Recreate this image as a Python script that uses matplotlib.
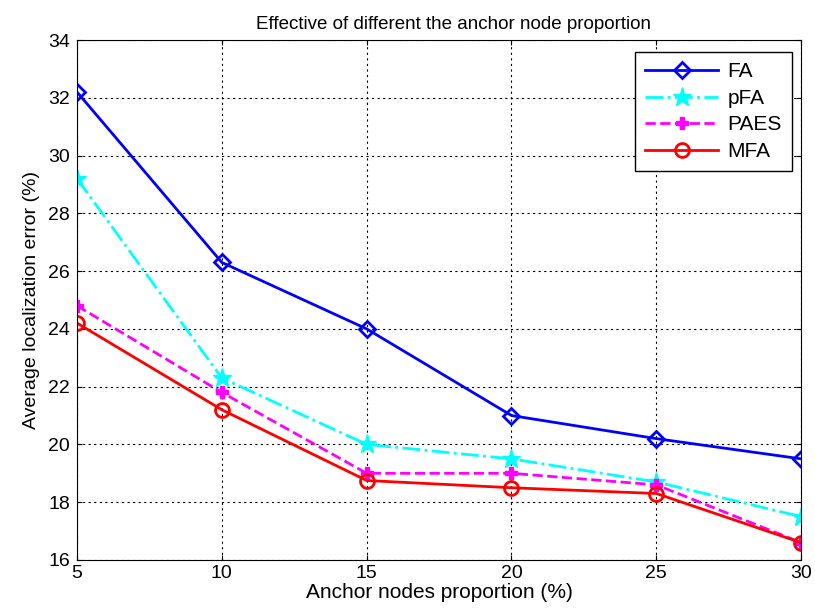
import matplotlib
matplotlib.use('Agg')
import matplotlib.pyplot as plt

# proporcion de nodos ancla
x = [5, 10, 15, 20, 25, 30]

fa = [32.2, 26.3, 24.0, 21.0, 20.2, 19.5]
pfa = [29.2, 22.3, 20.0, 19.5, 18.7, 17.5]
paes = [24.8, 21.8, 19.0, 19.0, 18.6, 16.6]
mfa = [24.2, 21.2, 18.75, 18.5, 18.3, 16.6]

plt.rcParams['font.family'] = ['Liberation Sans', 'DejaVu Sans']

fig = plt.figure(figsize=(8.15, 6.16), dpi=100)
ax = fig.add_axes([0.0945, 0.091, 0.8885, 0.844])

ax.plot(x, fa, '-', color='#0000ff', lw=2, marker='D', ms=8, mfc='none', mew=2, label='FA')
ax.plot(x, pfa, '-.', color='#00ffff', lw=2, marker='*', ms=14, label='pFA')
ax.plot(x, paes, '--', color='#ff00ff', lw=2, marker='P', ms=8, label='PAES')
ax.plot(x, mfa, '-', color='#ff0000', lw=2, marker='o', ms=10, mfc='none', mew=2, label='MFA')

ax.set_xlim(5, 30)
ax.set_ylim(16, 34)
ax.set_xticks(x)
ax.set_yticks(range(16, 35, 2))
ax.grid(True, color='black', linestyle=(0, (2, 3)), lw=0.8)
ax.tick_params(labelsize=14, direction='in', top=True, right=True)
ax.tick_params(axis='y', pad=5)

ax.set_title('Effective of different the anchor node proportion', fontsize=13.5, pad=8, x=0.52)
ax.set_xlabel('Anchor nodes proportion (%)', fontsize=15, labelpad=1)
ax.set_ylabel('Average localization error (%)', fontsize=14, labelpad=6)

leg = ax.legend(loc='upper right', fontsize=15, fancybox=False, framealpha=1,
                edgecolor='black', handlelength=3.5, handletextpad=0.45,
                borderpad=0.5, labelspacing=0.36, borderaxespad=0,
                bbox_to_anchor=(0.9876, 0.977))

plt.savefig('out.png', dpi=100)
